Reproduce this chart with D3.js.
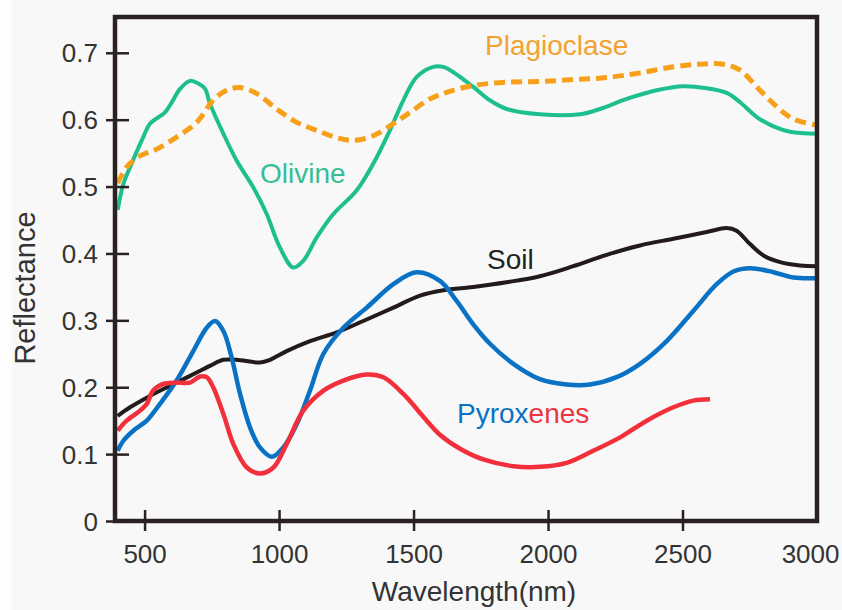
<!DOCTYPE html>
<html>
<head>
<meta charset="utf-8">
<script src="https://cdn.jsdelivr.net/npm/d3@7"></script>
<style>
  html, body { margin: 0; padding: 0; background: #f8f8f8; }
  svg { display: block; }
  text { font-family: "Liberation Sans", Arial, sans-serif; }
</style>
</head>
<body>
<svg id="chart" width="842" height="610"></svg>
<script>
// Reflectance spectra of lunar surface materials (wavelength in nm)
const olivineNm = [400,421,446,495,520,576,601,632,669,700,725,743,793,842,904,954,1003,1053,1090,1140,1202,1288,1350,1412,1462,1512,1573,1610,1648,1722,1784,1846,1970,2119,2193,2292,2404,2503,2590,2664,2714,2776,2838,2900,3000];
const olivineR  = [0.465,0.504,0.529,0.574,0.594,0.611,0.626,0.646,0.658,0.654,0.646,0.624,0.579,0.539,0.499,0.459,0.409,0.379,0.389,0.424,0.459,0.494,0.534,0.584,0.629,0.664,0.679,0.679,0.671,0.649,0.629,0.616,0.608,0.608,0.616,0.631,0.644,0.650,0.647,0.640,0.626,0.604,0.590,0.582,0.579];

const plagNm = [400,433,483,545,619,694,755,805,855,917,991,1066,1140,1214,1276,1350,1425,1487,1561,1623,1722,1846,1970,2094,2218,2342,2466,2565,2652,2714,2776,2838,2912,3000];
const plagR  = [0.505,0.529,0.546,0.556,0.574,0.596,0.629,0.644,0.648,0.639,0.616,0.596,0.584,0.573,0.569,0.576,0.594,0.611,0.631,0.641,0.651,0.656,0.657,0.660,0.663,0.670,0.679,0.683,0.683,0.674,0.649,0.624,0.601,0.592];

const soilNm = [400,446,520,594,669,743,793,842,929,966,1028,1115,1214,1313,1425,1524,1611,1722,1846,1970,2094,2218,2342,2466,2590,2664,2701,2751,2801,2863,2937,3000];
const soilR  = [0.157,0.170,0.187,0.202,0.217,0.232,0.241,0.241,0.237,0.241,0.254,0.269,0.282,0.299,0.319,0.337,0.345,0.350,0.357,0.366,0.381,0.398,0.412,0.422,0.432,0.438,0.434,0.414,0.397,0.387,0.382,0.381];

const pyxBlueNm = [400,421,458,508,557,619,681,731,762,793,824,855,892,929,973,1016,1066,1115,1165,1239,1326,1425,1510,1598,1660,1722,1784,1871,1970,2069,2156,2255,2342,2441,2540,2627,2689,2751,2838,2912,3000];
const pyxBlueR  = [0.105,0.120,0.135,0.150,0.175,0.210,0.254,0.289,0.299,0.284,0.244,0.190,0.140,0.110,0.096,0.110,0.145,0.195,0.250,0.289,0.319,0.354,0.372,0.359,0.329,0.294,0.265,0.235,0.212,0.204,0.204,0.215,0.235,0.269,0.314,0.354,0.373,0.378,0.372,0.364,0.363];

const pyxRedNm = [400,433,483,508,532,570,619,669,706,731,755,793,830,880,929,979,1028,1090,1165,1239,1326,1388,1462,1536,1598,1673,1759,1871,1970,2069,2168,2268,2367,2466,2540,2602];
const pyxRedR  = [0.135,0.150,0.165,0.175,0.195,0.205,0.207,0.207,0.216,0.215,0.200,0.160,0.115,0.080,0.071,0.080,0.115,0.165,0.195,0.210,0.219,0.215,0.190,0.156,0.129,0.108,0.092,0.082,0.081,0.087,0.105,0.125,0.150,0.170,0.180,0.182];

const xTicks = [500, 1000, 1500, 2000, 2500, 3000];
const yTicks = [0, 0.1, 0.2, 0.3, 0.4, 0.5, 0.6, 0.7];
const yTickLabels = ["0", "0.1", "0.2", "0.3", "0.4", "0.5", "0.6", "0.7"];

const frameLeft = 115, frameRight = 817, frameTop = 17, frameBottom = 521;

const svg = d3.select("#chart");
svg.append("rect").attr("x", 0).attr("y", 0).attr("width", 12).attr("height", 610).attr("fill", "#fdfdfd");

const x = d3.scaleLinear().domain([390, 3000]).range([frameLeft, frameRight]);
const y = d3.scaleLinear().domain([0, 0.7]).range([frameBottom, 52.8]);

svg.append("defs").append("clipPath").attr("id", "plotClip")
  .append("rect").attr("x", frameLeft).attr("y", frameTop)
  .attr("width", frameRight - frameLeft).attr("height", frameBottom - frameTop);

const line = d3.line()
  .x(d => x(d[0]))
  .y(d => y(d[1]))
  .curve(d3.curveCatmullRom.alpha(0.5));

const series = [
  { nm: soilNm, r: soilR, color: "#231b1b", width: 4 },
  { nm: pyxBlueNm, r: pyxBlueR, color: "#0a72c4", width: 4.5 },
  { nm: pyxRedNm, r: pyxRedR, color: "#f2303c", width: 4.5 },
  { nm: olivineNm, r: olivineR, color: "#1ebf8e", width: 4 },
  { nm: plagNm, r: plagR, color: "#f7a11a", width: 5, dash: "11,6" }
];

const plot = svg.append("g").attr("clip-path", "url(#plotClip)");
series.forEach(s => {
  plot.append("path")
    .datum(d3.zip(s.nm, s.r))
    .attr("d", line)
    .attr("fill", "none")
    .attr("stroke", s.color)
    .attr("stroke-width", s.width)
    .attr("stroke-linejoin", "round")
    .attr("stroke-dasharray", s.dash || null);
});

// frame
svg.append("rect")
  .attr("x", frameLeft).attr("y", frameTop)
  .attr("width", frameRight - frameLeft).attr("height", frameBottom - frameTop)
  .attr("fill", "none").attr("stroke", "#2a2222").attr("stroke-width", 4.5);

// y axis
const yAxis = svg.append("g").attr("transform", `translate(${frameLeft},0)`)
  .call(d3.axisLeft(y).tickValues(yTicks).tickSize(0)
    .tickFormat((d, i) => yTickLabels[i]));
yAxis.select(".domain").remove();
yAxis.selectAll(".tick line").attr("x1", -9).attr("x2", 14)
  .attr("stroke", "#2a2222").attr("stroke-width", 2.5);
yAxis.selectAll(".tick text").attr("x", -17).attr("dy", "0.35em")
  .attr("font-size", 26).attr("fill", "#333").style("font-family", "Liberation Sans, Arial, sans-serif");

// x axis
const xAxis = svg.append("g").attr("transform", `translate(0,${frameBottom})`)
  .call(d3.axisBottom(x).tickValues(xTicks).tickSize(0).tickFormat(d3.format("d")));
xAxis.select(".domain").remove();
xAxis.selectAll(".tick line").attr("y1", -11).attr("y2", 10)
  .attr("stroke", "#2a2222").attr("stroke-width", 2.5);
xAxis.selectAll(".tick text").attr("y", 42).attr("dy", 0)
  .attr("font-size", 26).attr("fill", "#333").style("font-family", "Liberation Sans, Arial, sans-serif");
// last tick sits on the frame edge: no tick mark, label pulled inside the page
const lastTick = xAxis.selectAll(".tick").filter(d => d === 3000);
lastTick.select("line").remove();
lastTick.select("text").attr("text-anchor", "end").attr("x", 839 - x(3000));

// axis titles
svg.append("text").attr("x", 474).attr("y", 601).attr("text-anchor", "middle")
  .attr("font-size", 28).attr("fill", "#333").text("Wavelength(nm)");
svg.append("text").attr("transform", "translate(35,288) rotate(-90)")
  .attr("text-anchor", "middle").attr("font-size", 29).attr("fill", "#333").text("Reflectance");

// series labels
svg.append("text").attr("x", 485).attr("y", 55).attr("font-size", 28)
  .attr("fill", "#f2a230").text("Plagioclase");
svg.append("text").attr("x", 260).attr("y", 183).attr("font-size", 28)
  .attr("fill", "#36be92").text("Olivine");
svg.append("text").attr("x", 487).attr("y", 269).attr("font-size", 28)
  .attr("fill", "#222").text("Soil");
const pyx = svg.append("text").attr("x", 457).attr("y", 423).attr("font-size", 28);
pyx.append("tspan").attr("fill", "#0a72c4").text("Pyrox");
pyx.append("tspan").attr("fill", "#ec3440").text("enes");
</script>
</body>
</html>
